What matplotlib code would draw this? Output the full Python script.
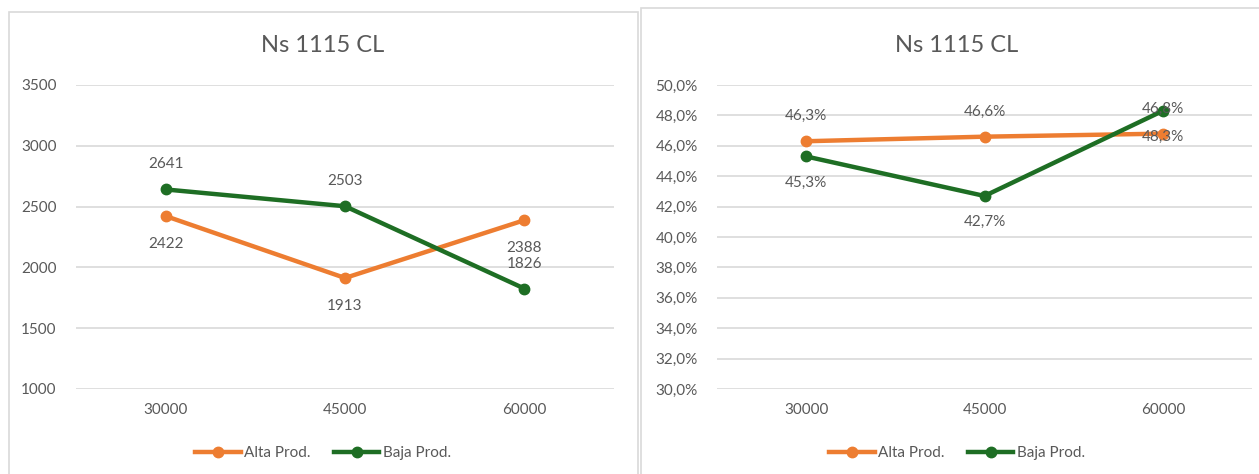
import matplotlib.pyplot as plt
from matplotlib.patches import Rectangle

plt.rcParams['font.family'] = ['Lato', 'DejaVu Sans']

categorias = ['30000', '45000', '60000']
series = ['Alta Prod.', 'Baja Prod.']

# grafico izquierdo
alta_n = [2422, 1913, 2388]
baja_n = [2641, 2503, 1826]

# grafico derecho (%)
alta_pct = [46.3, 46.6, 46.8]
baja_pct = [45.3, 42.7, 48.3]

naranja = '#ED7D31'
verde = '#1E6E24'
gris_txt = '#595959'
gris_lin = '#D9D9D9'

fig = plt.figure(figsize=(12.59, 4.74), dpi=100)
W, H = 1259, 474

# marcos de los graficos
fig.patches.append(Rectangle((9 / W, -0.1), (638 - 9) / W, 1 - 12 / H + 0.1,
                             transform=fig.transFigure, fill=False,
                             edgecolor=gris_lin, linewidth=1.2))
fig.patches.append(Rectangle((641 / W, -0.1), 0.5, 1 - 8 / H + 0.1,
                             transform=fig.transFigure, fill=False,
                             edgecolor=gris_lin, linewidth=1.2))


def dibujar(ax, alta, baja, ylim, paso, fmt, d_alta, d_baja):
    x = range(len(categorias))
    ax.plot(x, alta, color=naranja, lw=3.2, marker='o', ms=7.5, label=series[0], zorder=3)
    ax.plot(x, baja, color=verde, lw=3.2, marker='o', ms=7.5, label=series[1], zorder=3)
    ax.set_xlim(-0.5, len(categorias) - 0.5)
    ax.set_ylim(*ylim)
    ticks = []
    t = ylim[0]
    while t <= ylim[1] + 1e-9:
        ticks.append(t)
        t += paso
    ax.set_yticks(ticks)
    ax.set_yticklabels([fmt(v) for v in ticks])
    ax.set_xticks(list(x))
    ax.set_xticklabels(categorias)
    ax.grid(axis='y', color=gris_lin, lw=1.2)
    ax.set_axisbelow(True)
    for s in ax.spines.values():
        s.set_visible(False)
    ax.tick_params(length=0, labelsize=11, colors=gris_txt)
    ax.tick_params(axis='y', pad=14)
    ax.tick_params(axis='x', pad=10)
    for i in x:
        ax.annotate(fmt(alta[i]), (i, alta[i]), xytext=(0, d_alta), textcoords='offset points',
                    ha='center', va='center', fontsize=11, color=gris_txt)
        ax.annotate(fmt(baja[i]), (i, baja[i]), xytext=(0, d_baja), textcoords='offset points',
                    ha='center', va='center', fontsize=11, color=gris_txt)


ax1 = fig.add_axes([76 / W, 1 - 389 / H, (614 - 76) / W, (389 - 85) / H])
dibujar(ax1, alta_n, baja_n, (1000, 3500), 500, lambda v: f'{v:.0f}', -20, 18)

ax2 = fig.add_axes([717 / W, 1 - 389 / H, (1252 - 717) / W, (389 - 85) / H])
dibujar(ax2, alta_pct, baja_pct, (30, 50), 2,
        lambda v: f'{v:.1f}%'.replace('.', ','), 18, -19)

for cx, ax in [(323, ax1), (957, ax2)]:
    fig.text(cx / W, 1 - 45 / H, 'Ns 1115 CL', ha='center', va='center',
             fontsize=17, color=gris_txt)
    h, l = ax.get_legend_handles_labels()
    fig.legend(h, l, loc='center', bbox_to_anchor=(cx / W, 1 - 453 / H), ncol=2,
               frameon=False, fontsize=11, handlelength=3, handletextpad=0.2,
               columnspacing=1.5, labelcolor=gris_txt)

fig.savefig('out.png', dpi=100, facecolor='white')
